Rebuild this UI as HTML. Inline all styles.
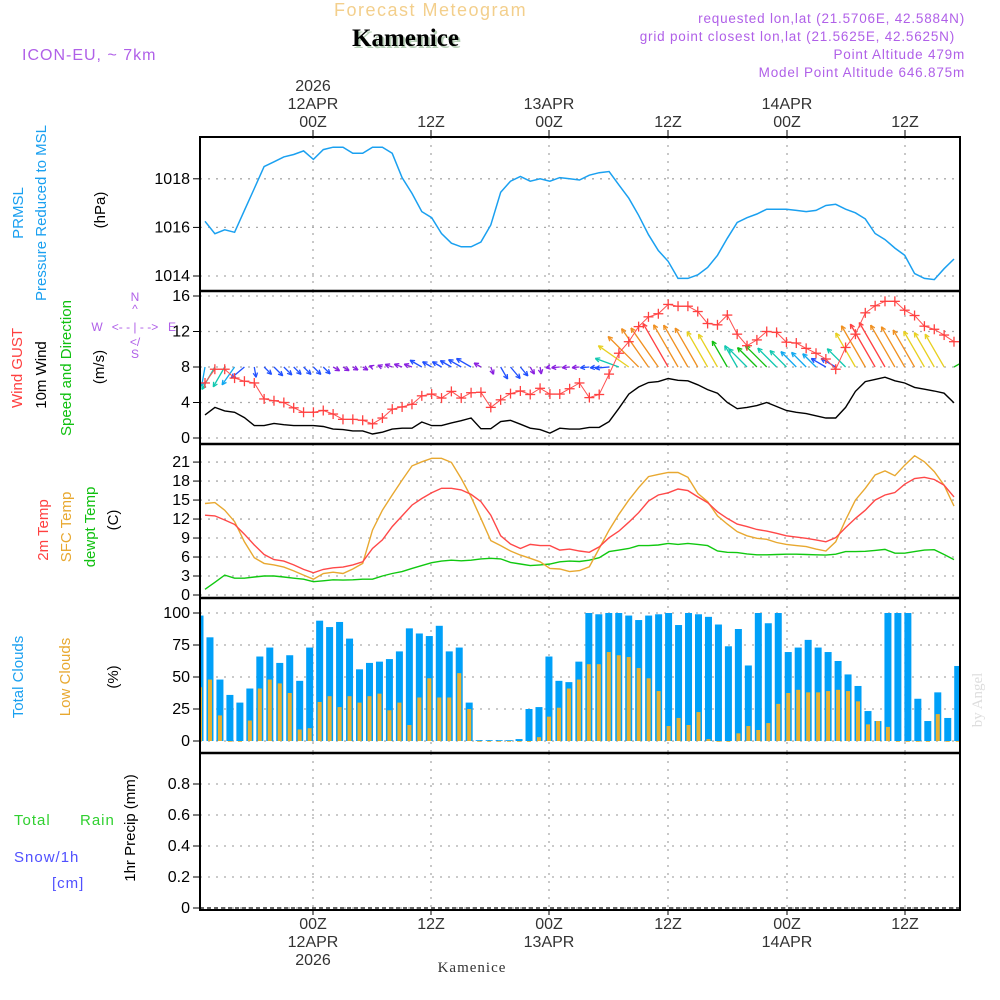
<!DOCTYPE html>
<html><head><meta charset="utf-8"><style>
html,body{margin:0;padding:0;background:#fff;}
svg{display:block;font-family:"Liberation Sans",sans-serif;}
</style></head><body>
<svg id="chart" width="1000" height="1000" viewBox="0 0 1000 1000" xmlns="http://www.w3.org/2000/svg">
<defs><clipPath id="plotclip"><rect x="201" y="292" width="758" height="151"/></clipPath></defs>
<rect x="0" y="0" width="1000" height="1000" fill="#fff"/>
<text x="334" y="16" font-size="18" fill="#f3cf8c" letter-spacing="1.5">Forecast Meteogram</text>
<text x="354" y="48" font-family="Liberation Serif,serif" font-weight="bold" font-size="25" fill="#b8d0b8">Kamenice</text>
<text x="352" y="46" font-family="Liberation Serif,serif" font-weight="bold" font-size="25" fill="#000">Kamenice</text>
<text x="22" y="60" font-size="16" fill="#b060e8" letter-spacing="1">ICON-EU, ~ 7km</text>
<g font-size="13.5" fill="#b060e8" text-anchor="end" letter-spacing="0.8">
<text x="965" y="23">requested lon,lat (21.5706E, 42.5884N)</text>
<text x="955" y="41">grid point closest lon,lat (21.5625E, 42.5625N)</text>
<text x="965" y="59">Point Altitude 479m</text>
<text x="965" y="77">Model Point Altitude 646.875m</text>
</g>
<text x="472" y="972" text-anchor="middle" font-family="Liberation Serif,serif" font-size="15" fill="#333" letter-spacing="1">Kamenice</text>
<text transform="translate(982,700) rotate(-90)" text-anchor="middle" font-family="Liberation Serif,serif" font-size="15" fill="#ddd">by Angel</text>

<g font-size="15">
<text transform="translate(23,213) rotate(-90)" text-anchor="middle" fill="#1aa0f0">PRMSL</text>
<text transform="translate(46,213) rotate(-90)" text-anchor="middle" fill="#1aa0f0">Pressure Reduced to MSL</text>
<text transform="translate(105,210) rotate(-90)" text-anchor="middle" fill="#000">(hPa)</text>
<text transform="translate(22,368) rotate(-90)" text-anchor="middle" fill="#ff4040">Wind GUST</text>
<text transform="translate(46,375) rotate(-90)" text-anchor="middle" fill="#000">10m Wind</text>
<text transform="translate(71,368) rotate(-90)" text-anchor="middle" fill="#10c010">Speed and Direction</text>
<text transform="translate(104,367) rotate(-90)" text-anchor="middle" fill="#000">(m/s)</text>
<text transform="translate(48,530) rotate(-90)" text-anchor="middle" fill="#ff4040">2m Temp</text>
<text transform="translate(71,527) rotate(-90)" text-anchor="middle" fill="#e8a830">SFC Temp</text>
<text transform="translate(95,527) rotate(-90)" text-anchor="middle" fill="#10c010">dewpt Temp</text>
<text transform="translate(118,520) rotate(-90)" text-anchor="middle" fill="#000">(C)</text>
<text transform="translate(23,677) rotate(-90)" text-anchor="middle" fill="#1aa0f0">Total Clouds</text>
<text transform="translate(70,677) rotate(-90)" text-anchor="middle" fill="#e8a830">Low Clouds</text>
<text transform="translate(118,677) rotate(-90)" text-anchor="middle" fill="#000">(%)</text>
<text transform="translate(135,828) rotate(-90)" text-anchor="middle" fill="#000">1hr Precip (mm)</text>
<text x="14" y="825" fill="#30d030" letter-spacing="1">Total</text>
<text x="80" y="825" fill="#30d030" letter-spacing="1">Rain</text>
<text x="14" y="862" fill="#5050ff" letter-spacing="1">Snow/1h</text>
<text x="52" y="888" fill="#5050ff" letter-spacing="1">[cm]</text>
</g>
<g font-size="12" fill="#b060e8" text-anchor="middle">
<text x="135" y="301">N</text><text x="135" y="313">^</text>
<text x="135" y="331">&lt;- - | - -&gt;</text>
<text x="97" y="331">W</text><text x="172" y="331">E</text>
<text x="135" y="346">&lt;/</text><text x="135" y="358">S</text>
</g>
<g id="plot"></g>
</svg>
<script>
// ---- data ----
const pressure = [1016.25,1015.74,1015.9,1015.8,1016.7,1017.6,1018.5,1018.7,1018.9,1019.0,1019.15,1018.8,1019.2,1019.3,1019.3,1019.05,1019.05,1019.3,1019.3,1019.05,1018.05,1017.4,1016.65,1016.4,1015.75,1015.35,1015.2,1015.2,1015.4,1016.1,1017.45,1017.9,1018.1,1017.9,1018.0,1017.9,1018.05,1018.0,1017.95,1018.15,
1018.25,1018.3,1017.75,1017.2,1016.5,1015.7,1015.05,1014.6,1013.9,1013.9,1014.05,1014.35,1014.85,1015.55,1016.2,1016.4,1016.55,1016.75,1016.75,1016.75,1016.7,1016.65,1016.7,1016.9,1016.95,1016.75,1016.6,1016.35,1015.75,1015.5,1015.15,1014.85,1014.1,1013.9,1013.85,1014.3,1014.7];
const gust = [6.2,7.75,7.75,6.75,6.4,6.2,4.4,4.2,4.0,3.4,2.9,2.9,3.1,2.7,2.1,2.1,2.0,1.6,2.25,3.25,3.5,3.8,4.75,4.95,4.5,5.25,4.5,5.1,5.15,3.45,4.3,5.0,5.3,4.9,5.6,4.95,4.95,5.55,6.2,4.55,
4.9,7.2,9.55,10.85,12.55,13.65,14.0,15.05,14.85,14.85,14.25,12.9,12.75,13.85,11.7,10.4,11.05,12.0,11.9,10.8,10.7,10.1,9.55,8.9,7.75,10.2,11.7,14.1,14.9,15.4,15.4,14.4,13.8,12.6,12.25,11.6,10.85];
const windSpeed = [2.6,3.45,3.05,2.9,2.3,1.4,1.4,1.65,1.5,1.4,1.4,1.4,1.3,1.0,0.95,0.8,0.8,0.45,0.65,1.0,1.1,1.1,1.8,1.4,1.4,1.7,1.95,2.25,1.05,1.05,1.85,2.0,1.55,1.1,0.95,0.55,1.1,1.0,1.0,1.2,
1.2,1.85,3.35,4.95,5.75,6.25,6.35,6.7,6.5,6.45,6.0,5.45,5.05,4.0,3.3,3.45,3.65,4.0,3.55,3.1,2.9,2.75,2.5,2.25,2.25,3.45,5.25,6.35,6.6,6.85,6.45,6.2,5.7,5.5,5.3,5.05,3.95];
const windDir = [260,240,240,235,220,280,315,315,315,315,315,315,315,330,330,330,330,160,160,160,160,160,150,150,150,150,150,150,150,290,300,310,310,300,280,190,185,185,185,185,
185,185,160,145,135,125,125,120,120,120,120,120,120,120,120,135,135,135,135,135,135,135,135,150,150,135,120,120,120,120,120,120,120,120,120,120,30];
const temp2m = [12.6,12.5,11.85,11.15,9.6,7.9,6.4,5.6,5.35,4.75,4.05,3.5,4.05,4.3,4.4,4.75,5.25,7.35,8.7,10.8,12.5,14.2,15.25,16.15,16.85,16.85,16.6,15.9,14.75,12.6,9.35,8.05,7.35,8.0,7.8,7.8,7.1,7.25,6.95,6.75,
7.6,9.05,10.1,11.5,13.0,14.85,15.8,16.15,16.75,16.5,15.5,14.6,13.15,12.1,11.2,10.8,10.35,10.1,9.75,9.35,9.15,8.95,8.7,8.4,9.05,10.65,12.1,13.4,15.0,15.8,16.2,17.5,18.4,18.6,18.25,17.35,15.5];
const tempSfc = [14.45,14.6,13.4,11.6,8.4,5.9,5.0,4.75,4.4,3.8,3.15,2.5,3.4,3.6,3.4,4.1,5.0,10.25,13.4,15.8,18.15,20.4,21.05,21.6,21.6,20.95,18.4,15.5,12.1,8.6,7.8,6.95,6.3,5.8,5.25,4.2,4.1,3.7,3.85,4.45,
7.35,10.25,12.75,15.0,16.95,18.7,19.05,19.35,19.35,18.6,16.05,14.75,12.5,11.2,10.0,9.35,8.95,8.8,8.3,8.0,7.8,7.65,7.25,6.95,8.4,11.85,15.0,16.85,18.95,19.6,18.85,20.5,22.0,21.05,19.5,17.35,14.05];
const dewpt = [0.9,2.0,3.15,2.65,2.65,2.85,3.0,3.0,2.85,2.65,2.5,2.1,2.25,2.4,2.35,2.4,2.5,2.5,3.0,3.4,3.7,4.2,4.65,5.1,5.35,5.5,5.4,5.5,5.7,5.8,5.7,5.15,4.9,4.65,4.75,4.9,5.25,5.35,5.3,5.5,
5.9,6.85,7.1,7.35,7.8,7.8,7.9,8.15,8.0,8.15,8.0,7.8,6.95,6.75,6.7,6.5,6.35,6.35,6.4,6.45,6.45,6.4,6.35,6.3,6.45,6.85,6.85,6.9,7.05,7.2,6.6,6.6,6.85,7.1,7.15,6.4,5.6];
const totalClouds = [98,81,48,36,30,41,66,73,61,67,47,73,94,89,93,80,56,61,62,64,70,88,84,82,90,70,73,30,0,0,0,0,1.5,25,26.5,66,47,46,62,100,
99,100,100,98,94.5,98,99,100,90.6,100,99,97,91,74,87.5,59,100,92,100,69.5,73,79,73,69.5,62.5,52,43,23.4,15.6,100,100,100,33,15.6,38,18,58.6];
const lowClouds = [42,48,20,0,0,16,41,48,45,37.5,9,10,30.5,35,26.5,35,30,35,37,24,30,12.5,34,49,34,34,53,25,0,0,0,0,0,0,3,19,26,41,48,60,
60,69.5,67,65.6,57,49,39,11.7,18,12.5,22.6,1.5,0,0,6,11.7,8.6,14,29,37.5,40,38,38,39,40,39,31,13,15.6,11,0,0,0,0,21,0,0];
const topDayLabels = ["12APR","13APR","14APR"];
const hourLabels = ["00Z","12Z","00Z","12Z","00Z","12Z"];

// ---- axes ----
const X0 = 200, X1 = 960;
const xLine = i => 205 + i * 9.855;
const xBar = k => 200 + k * 9.97;
const gridX = [313, 431, 549, 668, 787, 905];
const yP = v => 276 - (v - 1014) * 24.3;
const yW = v => 438 - v * 8.875;
const yT = v => 595 - v * 6.33;
const yC = v => 741 - v * 1.28;
const yR = v => 908 - v * 155;

const NS = "http://www.w3.org/2000/svg";
const plot = document.getElementById('plot');
function el(tag, attrs, parent) {
  const e = document.createElementNS(NS, tag);
  for (const k in attrs) e.setAttribute(k, attrs[k]);
  (parent || plot).appendChild(e);
  return e;
}
function txt(s, x, y, attrs, parent) {
  const e = el('text', Object.assign({x: x, y: y}, attrs), parent);
  e.textContent = s;
  return e;
}

const panels = [
  {name:'pressure', top:137, bot:291, ticks:[1014,1016,1018], fy:yP, lab:v=>String(v)},
  {name:'wind', top:291, bot:444, ticks:[0,4,8,12,16], fy:yW, lab:v=>String(v)},
  {name:'temperature', top:444, bot:598, ticks:[0,3,6,9,12,15,18,21], fy:yT, lab:v=>String(v)},
  {name:'clouds', top:598, bot:753, ticks:[0,25,50,75,100], fy:yC, lab:v=>String(v)},
  {name:'precip', top:753, bot:910, ticks:[0,0.2,0.4,0.6,0.8], fy:yR, lab:v=>v===0?'0':v.toFixed(1)}
];

panels.forEach(p => {
  const g = el('g', {});
  
  
  p.ticks.forEach(t => {
    const y = p.fy(t);
    const gl = el('line', {x1:X0, x2:X1, y1:y, y2:y, stroke:'#aaa', 'stroke-width':1.3, 'stroke-dasharray':'2,6'}, g);
    
    
    el('line', {x1:193, x2:X0, y1:y, y2:y, stroke:'#000', 'stroke-width':1}, g);
    const tl = txt(p.lab(t), 190, y + 5, {'text-anchor':'end', 'font-size':16, fill:'#000'}, g);
    
    
  });
  gridX.forEach(x => {
    const vl = el('line', {x1:x, x2:x, y1:p.top, y2:p.bot, stroke:'#aaa', 'stroke-width':1.3, 'stroke-dasharray':'2,6'}, g);
    
    
  });
});

function poly(arr, fx, fy, color, name, w) {
  const pts = arr.map((v, i) => fx(i).toFixed(1) + ',' + fy(v).toFixed(1)).join(' ');
  const e = el('polyline', {points: pts, fill:'none', stroke: color, 'stroke-width': w || 1.3});
  
  
  return e;
}

// pressure
poly(pressure, xLine, yP, '#1aa0f0', 'pressure-line', 1.5);

// wind arrows
function windColor(s) {
  if (s < 1.2) return '#8a20e0';
  if (s < 2.5) return '#2050ff';
  if (s < 3.0) return '#10a8f0';
  if (s < 3.6) return '#10c8b0';
  if (s < 4.3) return '#10c010';
  if (s < 5.6) return '#e8d020';
  if (s < 6.6) return '#f09020';
  return '#ff4040';
}
const arrowG = el('g', {'clip-path':'url(#plotclip)'});


windSpeed.forEach((s, i) => {
  const a = windDir[i] * Math.PI / 180;
  const L = 7.5 * s;
  const x0 = xLine(i), y0 = yW(8);
  const x1 = x0 + L * Math.cos(a), y1 = y0 - L * Math.sin(a);
  const c = windColor(s);
  const g = el('g', {stroke: c, 'stroke-width': 1.3, fill: 'none'}, arrowG);
  
  
  el('line', {x1:x0, y1:y0, x2:x1, y2:y1}, g);
  const h = 5;
  [0.45, -0.45].forEach(d => {
    const b = a + Math.PI + d;
    el('line', {x1:x1, y1:y1, x2:x1 + h * Math.cos(b), y2:y1 - h * Math.sin(b)}, g);
  });
});

// wind speed
poly(windSpeed, xLine, yW, '#000', 'wind-speed-line', 1.4);
// gust
poly(gust, xLine, yW, '#ff5050', 'gust-line', 1);
gust.forEach((v, i) => {
  const x = xLine(i), y = yW(v);
  const g = el('g', {stroke:'#ff4040', 'stroke-width':1.3});
  
  
  el('line', {x1:x-5, x2:x+5, y1:y, y2:y}, g);
  el('line', {x1:x, x2:x, y1:y-5, y2:y+5}, g);
});

// temperatures
poly(dewpt, xLine, yT, '#10c810', 'dewpoint-line', 1.4);
poly(tempSfc, xLine, yT, '#e8a830', 'sfc-temp-line', 1.4);
poly(temp2m, xLine, yT, '#ff4848', '2m-temp-line', 1.4);

// clouds
totalClouds.forEach((v, k) => {
  const x = xBar(k);
  const x0 = Math.max(X0 + 1, x - 3.5), x1 = Math.min(X1 - 1, x + 3.5);
  const h = Math.max(v * 1.28, 0.8);
  const r = el('rect', {x:x0, y:yC(v) - (v < 1 ? 1 : 0), width:Math.max(0, x1 - x0), height: h, fill:'#00a0f8'});
  
  
});
lowClouds.forEach((v, k) => {
  const x = xBar(k);
  const x0 = Math.max(X0 + 1, x - 2), x1 = Math.min(X1 - 1, x + 2);
  const r = el('rect', {x:x0, y:yC(v), width:Math.max(0, x1 - x0), height: Math.max(v * 1.28, 0.8), fill:'#e8b030'});
  
  
});

// precip zero line
const pz = el('line', {x1:X0, x2:X1, y1:yR(0), y2:yR(0), stroke:'#333', 'stroke-width':1.5, 'stroke-dasharray':'4,3'});



// frame
const fr = el('rect', {x:X0, y:137, width:X1 - X0, height:773, fill:'none', stroke:'#000', 'stroke-width':2});


[291, 444, 598, 753].forEach(y => {
  const s = el('line', {x1:X0, x2:X1, y1:y, y2:y, stroke:'#000', 'stroke-width':2.5});
  
  
});

// time axis labels
const topG = el('g', {'font-size':16, fill:'#333', 'text-anchor':'middle'});


gridX.forEach((x, j) => {
  el('line', {x1:x, x2:x, y1:130, y2:137, stroke:'#000'}, topG);
  txt(hourLabels[j], x, 127, {}, topG);
  if (j % 2 === 0) txt(topDayLabels[j / 2], x, 109, {}, topG);
});
txt('2026', gridX[0], 91, {}, topG);
const botG = el('g', {'font-size':16, fill:'#333', 'text-anchor':'middle'});


gridX.forEach((x, j) => {
  el('line', {x1:x, x2:x, y1:910, y2:915, stroke:'#000'}, botG);
  txt(hourLabels[j], x, 929, {}, botG);
  if (j % 2 === 0) txt(topDayLabels[j / 2], x, 947, {}, botG);
});
txt('2026', gridX[0], 965, {}, botG);
</script>
</body></html>
